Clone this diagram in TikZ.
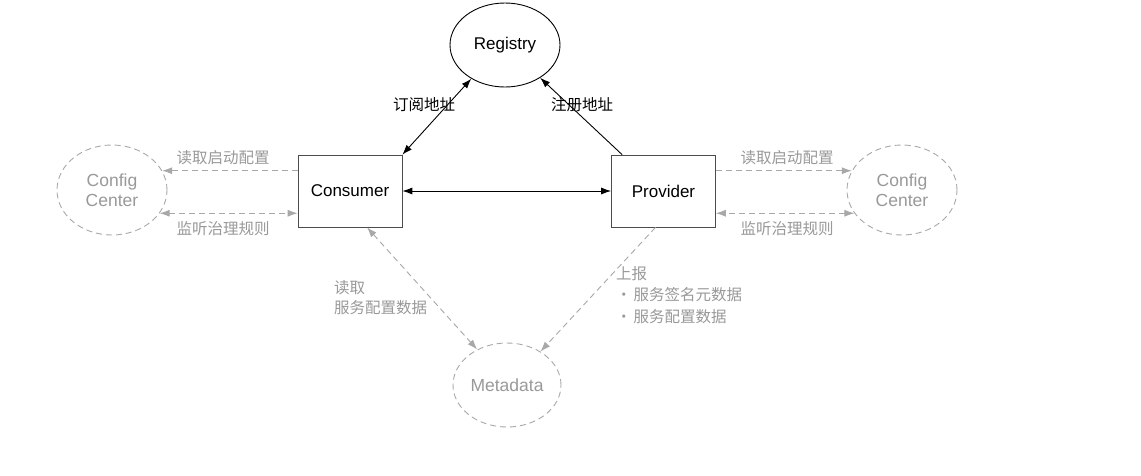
\documentclass[tikz,border=0pt]{standalone}
\usepackage{fontspec}
\setmainfont{Liberation Sans}
\newfontfamily\cjk{Noto Sans CJK SC}
\usetikzlibrary{arrows.meta,shapes.geometric}
\definecolor{lgray}{HTML}{A8A8A8}
\definecolor{tgray}{HTML}{999999}
\begin{document}
\begin{tikzpicture}[x=1pt,y=-1pt,
  solidell/.style={ellipse,draw=black,line width=0.9pt,minimum width=110pt,minimum height=84pt,inner sep=0pt,font=\fontsize{17}{20}\selectfont},
  dashell/.style={ellipse,draw=lgray,line width=0.9pt,dash pattern=on 6pt off 4pt,minimum width=110pt,minimum height=90pt,inner sep=0pt,text=tgray,align=center,font=\fontsize{17.5}{20}\selectfont},
  boxnode/.style={rectangle,draw=black!70,line width=0.7pt,minimum width=104pt,minimum height=72pt,inner sep=0pt,font=\fontsize{17}{20}\selectfont},
  blk/.style={line width=0.9pt,draw=black},
  gr/.style={line width=0.9pt,draw=lgray,dash pattern=on 6pt off 4pt},
  tipb/.style={-{Latex[length=10pt,width=7pt]}},
  tip2b/.style={{Latex[length=10pt,width=7pt]}-{Latex[length=10pt,width=7pt]}},
  tipg/.style={-{Latex[length=10pt,width=7pt]}},
  tip2g/.style={{Latex[length=10pt,width=7pt]}-{Latex[length=10pt,width=7pt]}},
  lbl/.style={font=\cjk\fontsize{15.5}{21}\selectfont,inner sep=0pt},
  glbl/.style={lbl,text=tgray}
]
\fill[white] (0,0) rectangle (1141,475);
\useasboundingbox (0,0) rectangle (1141,475);

\node[solidell] (reg) at (505,45) {Registry};
\node[boxnode] (cons) at (350,191) {Consumer};
\node[boxnode] (prov) at (663.5,191) {Provider};
\node[dashell] (cfgL) at (112,190) {Config\\Center};
\node[dashell] (cfgR) at (902,190) {Config\\Center};
\node[dashell,minimum width=108pt,minimum height=84pt] (meta) at (507,385) {Metadata};

% registry links
\draw[blk,tip2b] (cons.north east) -- (reg.225);
\draw[blk,tipb] ([xshift=11pt]prov.north west) -- (reg.317);
\draw[blk,tip2b] (cons.east) -- (prov.west);

% config center links
\draw[gr,tipg,lgray] (cons.west |- cfgL.21) -- (cfgL.21);
\draw[gr,tip2g,lgray] (cfgL.-26) -- (cons.west |- cfgL.-26);
\draw[gr,tipg,lgray] (prov.east |- cfgR.159) -- (cfgR.159);
\draw[gr,tip2g,lgray] (cfgR.206) -- (prov.east |- cfgR.206);

% metadata links
\draw[gr,tip2g,lgray] ([xshift=17pt]cons.south) -- (meta.130);
\draw[gr,tipg,lgray] ([xshift=-8pt]prov.south) -- (meta.45);

% labels
\node[lbl] (l1) at (424,105) {订阅地址};
\node[lbl] (l2) at (582,105) {注册地址};
\node[glbl] (l3) at (223,158) {读取启动配置};
\node[glbl] (l4) at (223,229) {监听治理规则};
\node[glbl] (l5) at (787,158) {读取启动配置};
\node[glbl] (l6) at (787,229) {监听治理规则};
\node[glbl,anchor=north west,align=left,font=\cjk\fontsize{15.5}{20}\selectfont] (l7) at (334,280) {读取\\服务配置数据};
\node[glbl,anchor=north west,align=left,font=\cjk\fontsize{15.5}{21.5}\selectfont] (l8) at (616,266) {上报\\·\hspace{2pt}服务签名元数据\\·\hspace{2pt}服务配置数据};
\end{tikzpicture}
\end{document}
